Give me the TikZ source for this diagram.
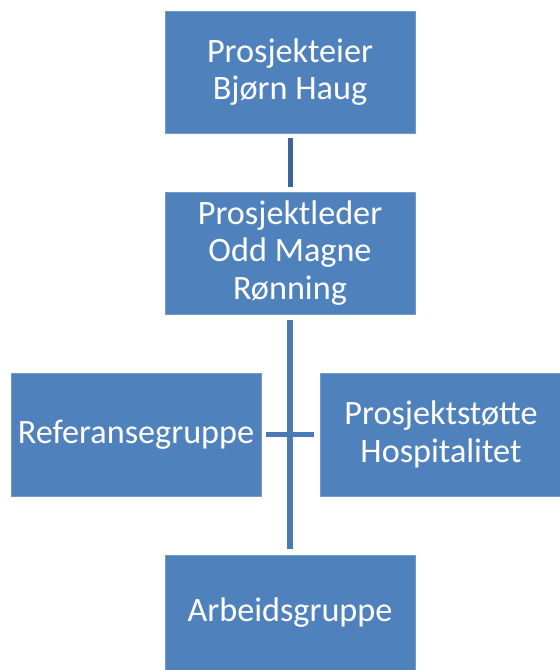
\documentclass[tikz,border=0pt]{standalone}
\usepackage{fontspec}
\setmainfont{Carlito}
\definecolor{boxblue}{HTML}{4F81BD}
\definecolor{lineA}{HTML}{3A6596}
\definecolor{lineB}{HTML}{4A7AB5}
\tikzset{
  orgbox/.style={fill=boxblue, draw=boxblue!80!white, line width=0.6pt, text=white, inner sep=0pt, align=center,
    font=\fontsize{34.2}{37.5}\selectfont},
  conn/.style={line width=6pt, color=lineB, shorten <=6pt, shorten >=6pt}
}
\begin{document}
\begin{tikzpicture}[x=1pt,y=-1pt]
\useasboundingbox (0,0) rectangle (560,670);
\node[orgbox, minimum width=250pt, minimum height=122pt] (eier) at (290,72) {Prosjekteier\\Bjørn Haug};
\node[orgbox, minimum width=250pt, minimum height=122pt] (leder) at (290,253) {Prosjektleder\\Odd Magne\\Rønning};
\node[orgbox, minimum width=250pt, minimum height=123pt] (ref) at (136,434.5) {Referansegruppe};
\node[orgbox, minimum width=242pt, minimum height=123pt] (stotte) at (441,434.5) {Prosjektstøtte\\Hospitalitet};
\node[orgbox, minimum width=250pt, minimum height=116pt] (arb) at (290,613) {Arbeidsgruppe};
\draw[conn, color=lineA, line width=5pt, shorten <=5pt, shorten >=5pt] (eier.south) -- (leder.north);
\draw[conn] (leder.south) -- (arb.north);
\draw[conn, line width=4.5pt, shorten <=5pt] (ref.east) -- (stotte.west);
\end{tikzpicture}
\end{document}
